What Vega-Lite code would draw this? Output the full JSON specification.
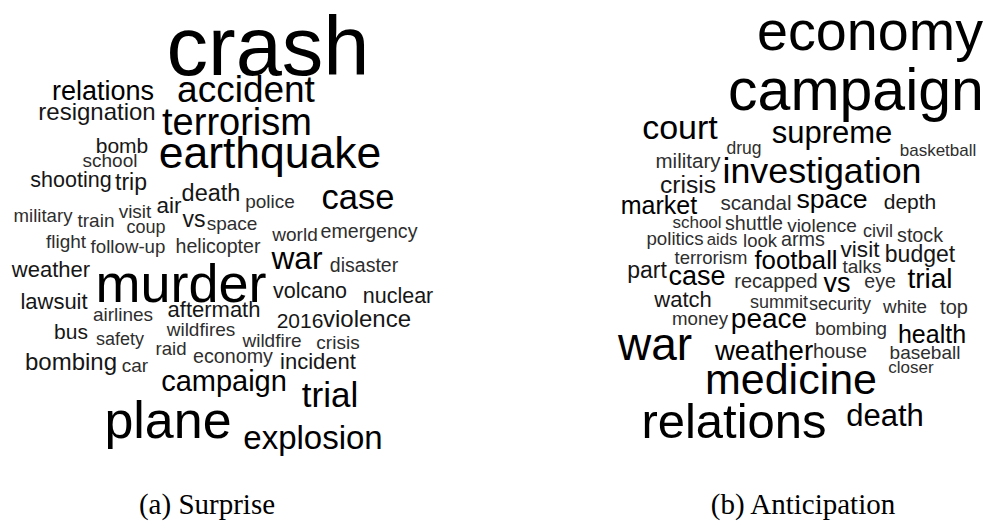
{
  "$schema": "https://vega.github.io/schema/vega-lite/v6.json",
  "width": 990,
  "height": 523,
  "padding": 0,
  "autosize": {"type": "none"},
  "background": "white",
  "config": {"view": {"stroke": null}},
  "datasets": {
    "words": [
      {"cloud": "Surprise", "word": "crash", "x": 268, "y": 75, "freq": 83},
      {"cloud": "Surprise", "word": "accident", "x": 246, "y": 102, "freq": 37},
      {"cloud": "Surprise", "word": "relations", "x": 103, "y": 100, "freq": 27},
      {"cloud": "Surprise", "word": "resignation", "x": 97, "y": 120, "freq": 24},
      {"cloud": "Surprise", "word": "terrorism", "x": 237, "y": 135, "freq": 38},
      {"cloud": "Surprise", "word": "bomb", "x": 122, "y": 153, "freq": 21},
      {"cloud": "Surprise", "word": "school", "x": 110, "y": 167, "freq": 19},
      {"cloud": "Surprise", "word": "earthquake", "x": 270, "y": 168, "freq": 44.5},
      {"cloud": "Surprise", "word": "shooting", "x": 71, "y": 187, "freq": 21.5},
      {"cloud": "Surprise", "word": "trip", "x": 131, "y": 190, "freq": 23},
      {"cloud": "Surprise", "word": "death", "x": 211, "y": 201, "freq": 23.5},
      {"cloud": "Surprise", "word": "case", "x": 358, "y": 209, "freq": 34.5},
      {"cloud": "Surprise", "word": "air", "x": 169, "y": 213, "freq": 22.5},
      {"cloud": "Surprise", "word": "police", "x": 270, "y": 208, "freq": 19},
      {"cloud": "Surprise", "word": "military", "x": 43, "y": 222, "freq": 18.6},
      {"cloud": "Surprise", "word": "train", "x": 96, "y": 227, "freq": 19},
      {"cloud": "Surprise", "word": "visit", "x": 135, "y": 218, "freq": 19},
      {"cloud": "Surprise", "word": "coup", "x": 146, "y": 233, "freq": 18},
      {"cloud": "Surprise", "word": "vs", "x": 194, "y": 227, "freq": 23},
      {"cloud": "Surprise", "word": "space", "x": 232, "y": 230, "freq": 19},
      {"cloud": "Surprise", "word": "world", "x": 295, "y": 241, "freq": 19},
      {"cloud": "Surprise", "word": "emergency", "x": 369, "y": 238, "freq": 19.6},
      {"cloud": "Surprise", "word": "flight", "x": 66, "y": 248, "freq": 19},
      {"cloud": "Surprise", "word": "follow-up", "x": 128, "y": 253, "freq": 18.7},
      {"cloud": "Surprise", "word": "helicopter", "x": 218, "y": 253, "freq": 19.6},
      {"cloud": "Surprise", "word": "war", "x": 297, "y": 269, "freq": 31.7},
      {"cloud": "Surprise", "word": "disaster", "x": 364, "y": 272, "freq": 19.5},
      {"cloud": "Surprise", "word": "weather", "x": 51, "y": 277, "freq": 22},
      {"cloud": "Surprise", "word": "murder", "x": 181, "y": 302, "freq": 54},
      {"cloud": "Surprise", "word": "volcano", "x": 310, "y": 298, "freq": 21.5},
      {"cloud": "Surprise", "word": "nuclear", "x": 398, "y": 303, "freq": 21.5},
      {"cloud": "Surprise", "word": "lawsuit", "x": 54, "y": 309, "freq": 22},
      {"cloud": "Surprise", "word": "airlines", "x": 123, "y": 321, "freq": 19},
      {"cloud": "Surprise", "word": "aftermath", "x": 214, "y": 317, "freq": 22},
      {"cloud": "Surprise", "word": "2016", "x": 300, "y": 328, "freq": 21},
      {"cloud": "Surprise", "word": "violence", "x": 367, "y": 327, "freq": 24},
      {"cloud": "Surprise", "word": "bus", "x": 71, "y": 339, "freq": 21},
      {"cloud": "Surprise", "word": "wildfires", "x": 201, "y": 336, "freq": 19},
      {"cloud": "Surprise", "word": "safety", "x": 120, "y": 345, "freq": 18},
      {"cloud": "Surprise", "word": "raid", "x": 171, "y": 355, "freq": 18.6},
      {"cloud": "Surprise", "word": "wildfire", "x": 272, "y": 347, "freq": 19},
      {"cloud": "Surprise", "word": "crisis", "x": 338, "y": 349, "freq": 19},
      {"cloud": "Surprise", "word": "bombing", "x": 71, "y": 370, "freq": 24},
      {"cloud": "Surprise", "word": "car", "x": 135, "y": 372, "freq": 19},
      {"cloud": "Surprise", "word": "economy", "x": 233, "y": 363, "freq": 19.7},
      {"cloud": "Surprise", "word": "incident", "x": 318, "y": 369, "freq": 22},
      {"cloud": "Surprise", "word": "campaign", "x": 224, "y": 391, "freq": 29},
      {"cloud": "Surprise", "word": "trial", "x": 330, "y": 407, "freq": 35},
      {"cloud": "Surprise", "word": "plane", "x": 168, "y": 438, "freq": 52},
      {"cloud": "Surprise", "word": "explosion", "x": 313, "y": 449, "freq": 33},
      {"cloud": "Anticipation", "word": "economy", "x": 870, "y": 50, "freq": 55.7},
      {"cloud": "Anticipation", "word": "campaign", "x": 856, "y": 110, "freq": 59},
      {"cloud": "Anticipation", "word": "court", "x": 680, "y": 139, "freq": 34},
      {"cloud": "Anticipation", "word": "supreme", "x": 832, "y": 143, "freq": 31},
      {"cloud": "Anticipation", "word": "drug", "x": 744, "y": 154, "freq": 17.5},
      {"cloud": "Anticipation", "word": "basketball", "x": 938, "y": 156, "freq": 17},
      {"cloud": "Anticipation", "word": "military", "x": 688, "y": 168, "freq": 20.5},
      {"cloud": "Anticipation", "word": "investigation", "x": 822, "y": 183, "freq": 35.8},
      {"cloud": "Anticipation", "word": "crisis", "x": 688, "y": 193, "freq": 24.6},
      {"cloud": "Anticipation", "word": "market", "x": 659, "y": 214, "freq": 25},
      {"cloud": "Anticipation", "word": "scandal", "x": 756, "y": 210, "freq": 20.6},
      {"cloud": "Anticipation", "word": "space", "x": 832, "y": 208, "freq": 26.7},
      {"cloud": "Anticipation", "word": "depth", "x": 910, "y": 209, "freq": 21},
      {"cloud": "Anticipation", "word": "school", "x": 697, "y": 228, "freq": 17},
      {"cloud": "Anticipation", "word": "shuttle", "x": 754, "y": 230, "freq": 19.7},
      {"cloud": "Anticipation", "word": "violence", "x": 822, "y": 232, "freq": 19},
      {"cloud": "Anticipation", "word": "civil", "x": 878, "y": 237, "freq": 18},
      {"cloud": "Anticipation", "word": "stock", "x": 920, "y": 242, "freq": 19.7},
      {"cloud": "Anticipation", "word": "politics", "x": 675, "y": 245, "freq": 18.7},
      {"cloud": "Anticipation", "word": "aids", "x": 722, "y": 245, "freq": 16.7},
      {"cloud": "Anticipation", "word": "look", "x": 760, "y": 247, "freq": 18.5},
      {"cloud": "Anticipation", "word": "arms", "x": 803, "y": 246, "freq": 19.8},
      {"cloud": "Anticipation", "word": "visit", "x": 860, "y": 257, "freq": 22.6},
      {"cloud": "Anticipation", "word": "budget", "x": 920, "y": 262, "freq": 23},
      {"cloud": "Anticipation", "word": "terrorism", "x": 711, "y": 264, "freq": 18.5},
      {"cloud": "Anticipation", "word": "football", "x": 796, "y": 269, "freq": 25.8},
      {"cloud": "Anticipation", "word": "talks", "x": 862, "y": 273, "freq": 19},
      {"cloud": "Anticipation", "word": "part", "x": 647, "y": 278, "freq": 23},
      {"cloud": "Anticipation", "word": "case", "x": 697, "y": 285, "freq": 27},
      {"cloud": "Anticipation", "word": "recapped", "x": 776, "y": 288, "freq": 20},
      {"cloud": "Anticipation", "word": "vs", "x": 837, "y": 292, "freq": 27},
      {"cloud": "Anticipation", "word": "eye", "x": 880, "y": 288, "freq": 19.5},
      {"cloud": "Anticipation", "word": "trial", "x": 930, "y": 288, "freq": 28},
      {"cloud": "Anticipation", "word": "watch", "x": 683, "y": 307, "freq": 22},
      {"cloud": "Anticipation", "word": "summit", "x": 779, "y": 308, "freq": 18},
      {"cloud": "Anticipation", "word": "security", "x": 840, "y": 310, "freq": 18},
      {"cloud": "Anticipation", "word": "white", "x": 905, "y": 313, "freq": 18.8},
      {"cloud": "Anticipation", "word": "top", "x": 954, "y": 314, "freq": 20},
      {"cloud": "Anticipation", "word": "money", "x": 700, "y": 325, "freq": 18.7},
      {"cloud": "Anticipation", "word": "peace", "x": 769, "y": 328, "freq": 28},
      {"cloud": "Anticipation", "word": "bombing", "x": 851, "y": 335, "freq": 18.8},
      {"cloud": "Anticipation", "word": "health", "x": 932, "y": 343, "freq": 25},
      {"cloud": "Anticipation", "word": "war", "x": 655, "y": 360, "freq": 46},
      {"cloud": "Anticipation", "word": "weather", "x": 764, "y": 360, "freq": 27.6},
      {"cloud": "Anticipation", "word": "house", "x": 840, "y": 358, "freq": 19.8},
      {"cloud": "Anticipation", "word": "baseball", "x": 925, "y": 359, "freq": 19},
      {"cloud": "Anticipation", "word": "closer", "x": 911, "y": 373, "freq": 17},
      {"cloud": "Anticipation", "word": "medicine", "x": 791, "y": 394, "freq": 43},
      {"cloud": "Anticipation", "word": "relations", "x": 734, "y": 438, "freq": 49},
      {"cloud": "Anticipation", "word": "death", "x": 885, "y": 426, "freq": 31}
    ],
    "captions": [
      {"label": "(a) Surprise", "x": 207, "y": 514},
      {"label": "(b) Anticipation", "x": 803, "y": 514}
    ]
  },
  "layer": [
    {
      "data": {"name": "words"},
      "mark": {"type": "text", "font": "Liberation Sans", "align": "center", "baseline": "alphabetic"},
      "encoding": {
        "x": {"field": "x", "type": "quantitative", "scale": {"domain": [0, 990], "nice": false, "zero": false}, "axis": null},
        "y": {"field": "y", "type": "quantitative", "scale": {"domain": [0, 523], "nice": false, "zero": false, "reverse": true}, "axis": null},
        "text": {"field": "word", "type": "nominal"},
        "size": {"field": "freq", "type": "quantitative", "scale": {"type": "linear", "domain": [0, 100], "range": [0, 100]}, "legend": null},
        "color": {"field": "freq", "type": "quantitative", "scale": {"type": "threshold", "domain": [21, 25], "range": ["#2e2e2e", "#161616", "#000000"]}, "legend": null}
      }
    },
    {
      "data": {"name": "captions"},
      "mark": {"type": "text", "font": "Liberation Serif", "fontSize": 29, "align": "center", "baseline": "alphabetic", "color": "#000000"},
      "encoding": {
        "x": {"field": "x", "type": "quantitative", "scale": {"domain": [0, 990], "nice": false, "zero": false}, "axis": null},
        "y": {"field": "y", "type": "quantitative", "scale": {"domain": [0, 523], "nice": false, "zero": false, "reverse": true}, "axis": null},
        "text": {"field": "label", "type": "nominal"}
      }
    }
  ]
}
